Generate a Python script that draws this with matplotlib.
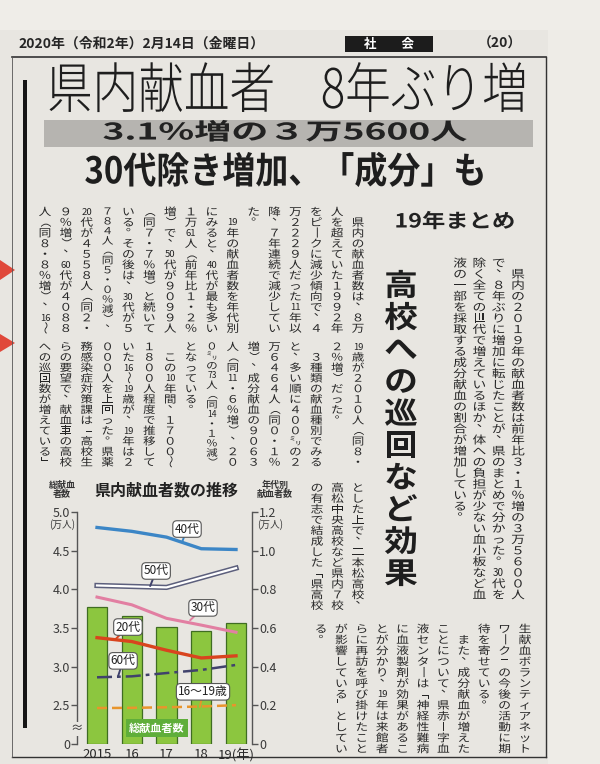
import matplotlib
matplotlib.use('Agg')
import matplotlib.pyplot as plt
import matplotlib.patheffects as pe
from matplotlib.patches import Rectangle, Polygon
from matplotlib.transforms import Affine2D

W, H = 600, 764
FAM = ['Noto Sans CJK JP', 'DejaVu Sans']
plt.rcParams['font.family'] = FAM

# ---- chart data (万人) ----
years = ['2015', '16', '17', '18', '19(年)']
total_donors = [3.77, 3.66, 3.51, 3.46, 3.56]      # left axis, 総献血者数
age_40s = [1.12, 1.10, 1.07, 1.01, 1.006]           # right axis, 年代別
age_50s = [0.82, 0.815, 0.81, 0.86, 0.91]
age_30s = [0.76, 0.72, 0.65, 0.615, 0.578]
age_20s = [0.55, 0.53, 0.485, 0.445, 0.456]
age_60s = [0.345, 0.35, 0.367, 0.383, 0.409]
age_teens = [0.186, 0.187, 0.19, 0.194, 0.201]
age_labels = ['40代', '50代', '30代', '20代', '60代', '16〜19歳']
left_ticklabels = ['0', '2.5', '3.0', '3.5', '4.0', '4.5', '5.0']
right_ticks = [0, 0.2, 0.4, 0.6, 0.8, 1.0, 1.2]

# ---- article text (vertical columns, right to left) ----
tier1 = [
    '　県内の献血者数は、８万',
    '人を超えていた１９９２年',
    'をピークに減少傾向で、４',
    '万２２２９人だった11年以',
    '降、７年連続で減少してい',
    'た。',
    '　19年の献血者数を年代別',
    'にみると、40代が最も多い',
    '１万61人（前年比１・２％',
    '増）で、50代が９０９９人',
    '（同７・７％増）と続いて',
    'いる。その後は、30代が５',
    '７８４人（同５・０％減）、',
    '20代が４５５８人（同２・',
    '９％増）、60代が４０８８',
    '人（同８・８％増）、16〜',
]
tier2 = [
    '19歳が２０１０人（同８・',
    '２％増）だった。',
    '　３種類の献血種別でみる',
    'と、多い順に４００㍉の２',
    '万６４６４人（同０・１％',
    '増）、成分献血の９０６３',
    '人（同11・６％増）、２０',
    '０㍉の73人（同14・１％減）',
    'となっている。',
    '　この10年間、１７００〜',
    '１８００人程度で推移して',
    'いた16〜19歳が、19年は２',
    '０００人を上回った。県薬',
    '務感染症対策課は「高校生',
    'らの要望で、献血車の高校',
    'への巡回数が増えている」',
]
tier3 = [
    'とした上で、二本松高校、',
    '高松中央高校など県内７校',
    'の有志で結成した「県高校',
]
tier4 = [
    '生献血ボランティアネット',
    'ワーク」の今後の活動に期',
    '待を寄せている。',
    '　また、成分献血が増えた',
    'ことについて、県赤十字血',
    '液センターは「神経性難病',
    'に血液製剤が効果があるこ',
    'とが分かり、19年は来館者',
    'らに再訪を呼び掛けたこと',
    'が影響している」としてい',
    'る。',
]
lede = [
    '　県内の２０１９年の献血者数は前年比３・１％増の３万５６００人',
    'で、８年ぶりに増加に転じたことが、県のまとめで分かった。30代を',
    '除く全ての世代で増えているほか、体への負担が少ない血小板など血',
    '液の一部を採取する成分献血の割合が増加している。',
]

INK = '#262626'
PAPER = '#e8e6e1'
ROTATE = set('（）「」ー〜')
CORNER = set('、。')


class Stretch(pe.AbstractPathEffect):
    # scale each glyph run about its own centre (flat / tall newspaper type),
    # optionally nudged by dx, dy display pixels
    def __init__(self, sx=1.0, sy=1.0, dx=0.0, dy=0.0):
        super().__init__()
        self.sx, self.sy, self.dx, self.dy = sx, sy, dx, dy

    def draw_path(self, renderer, gc, tpath, affine, rgbFace=None):
        ext = tpath.get_extents()
        cx, cy = (ext.x0 + ext.x1) / 2, (ext.y0 + ext.y1) / 2
        aff = (Affine2D().translate(-cx, -cy).scale(self.sx, self.sy).translate(cx, cy)
               + affine + Affine2D().translate(self.dx, self.dy))
        renderer.draw_path(gc, tpath, aff, rgbFace)


def cells(s):
    # ASCII runs share one cell (tate-chu-yoko)
    out, i = [], 0
    while i < len(s):
        if s[i].isascii():
            j = i
            while j < len(s) and s[j].isascii():
                j += 1
            out.append(s[i:j])
            i = j
        else:
            out.append(s[i])
            i += 1
    return out


def vcol(ax, text, x, y0, pitch, em, sx=1.2, weight='normal', color=INK, fit=None):
    cl = cells(text)
    if fit and len(cl) > fit:
        # squeeze over-long columns so they stay inside their tier
        pitch = pitch * fit / len(cl)
        em = em * fit / len(cl)
    size = em * 0.72
    for k, c in enumerate(cl):
        cy = y0 + pitch * (k + 0.5)
        if c.strip('　') == '':
            continue
        if c in ROTATE:
            ax.text(x, cy, c, rotation=-90, ha='center', va='center', fontsize=size,
                    weight=weight, color=color, path_effects=[Stretch(sx, 1.0)])
        elif c in CORNER:
            # vertical setting: comma / full stop sit in the upper right of the cell
            ax.text(x, cy + 0.38 * em, c, ha='center', va='baseline', fontsize=size,
                    weight=weight, color=color,
                    path_effects=[Stretch(sx, 1.0, dx=0.3 * em, dy=0.56 * em)])
        elif c.isascii():
            ax.text(x, cy + 0.33 * em, c, ha='center', va='baseline', fontsize=size * 0.9,
                    weight=weight, color=color)
        else:
            ax.text(x, cy + 0.38 * em, c, ha='center', va='baseline', fontsize=size,
                    weight=weight, color=color, path_effects=[Stretch(sx, 1.0)])


fig = plt.figure(figsize=(6, 7.64), dpi=100)
fig.patch.set_facecolor(PAPER)
bg = fig.add_axes([0, 0, 1, 1])
bg.set_xlim(0, W)
bg.set_ylim(H, 0)
bg.axis('off')

# paper outside the article frame
bg.add_patch(Rectangle((548, 0), 52, H, fc='#eeece7', ec='none'))
bg.add_patch(Rectangle((0, 0), W, 30, fc='#efede8', ec='none'))

# ---- header ----
bg.text(18, 44, '2020年（令和2年）2月14日（金曜日）', fontsize=10, weight='bold',
        ha='left', va='center', color=INK)
bg.add_patch(Rectangle((345, 36), 88, 16, fc='#1c1c1c', ec='none'))
bg.text(389, 44, '社　　会', fontsize=9, weight='bold', color='white', ha='center', va='center')
bg.text(500, 44, '（20）', fontsize=10, weight='bold', ha='center', va='center', color=INK)

# frame
bg.plot([12, 546], [57, 57], color='#333', lw=1.2)
bg.plot([546, 546], [57, 757], color='#333', lw=1.0)
bg.plot([12, 546], [757, 757], color='#333', lw=1.0)
bg.plot([12, 12], [57, 757], color='#555', lw=0.6)
bg.add_patch(Rectangle((23, 80), 4, 648, fc='#151515', ec='none'))

# red marks on the left margin
bg.add_patch(Polygon([(0, 260), (15, 270), (0, 280)], closed=True, fc='#e0483a', ec='none'))
bg.add_patch(Polygon([(0, 334), (15, 343), (0, 352)], closed=True, fc='#e0483a', ec='none'))

# ---- headlines ----
bg.text(287, 91, '県内献血者　8年ぶり増', fontsize=31, weight='light', ha='center',
        va='center', color='#1e1e1e', path_effects=[Stretch(1.06, 1.27)])
bg.add_patch(Rectangle((44, 120), 489, 27, fc='#b6b4b0', ec='none'))
bg.text(285, 133, '3.1%増の３万5600人', fontsize=16.5, weight='bold', ha='center',
        va='center', color='#222', path_effects=[Stretch(1.62, 1.0)])
bg.text(285, 172, '30代除き増加、「成分」も', fontsize=22, weight='bold', ha='center',
        va='center', color='#1e1e1e', path_effects=[Stretch(1.08, 1.2)])

bg.text(455, 222, '19年まとめ', fontsize=14, weight='bold', ha='center', va='center',
        color='#222', path_effects=[Stretch(1.2, 1.0)])
vcol(bg, '高校への巡回など効果', 401, 268, 32, 30, sx=1.12, weight='bold', color='#1e1e1e')

# ---- article body ----
for i, col in enumerate(lede):
    vcol(bg, col, 518 - 19.3 * i, 257, 11.06, 11.0, sx=1.25)
for i, col in enumerate(tier1):
    vcol(bg, col, 358 - 20.87 * i, 206, 10.6, 10.6, fit=12)
for i, col in enumerate(tier2):
    vcol(bg, col, 358 - 20.87 * i, 341, 10.5, 10.4, fit=12)
for i, col in enumerate(tier3):
    vcol(bg, col, 358 - 20.5 * i, 482, 10.7, 10.6, fit=12)
for i, col in enumerate(tier4):
    vcol(bg, col, 525 - 20.4 * i, 623, 10.9, 10.6, fit=12)

# ---- chart ----
def fig_rect(x0, y0, x1, y1):
    return [x0 / W, 1 - y1 / H, (x1 - x0) / W, (y1 - y0) / H]


ax = fig.add_axes(fig_rect(77, 512, 252, 744))
ax.set_facecolor('none')
x = list(range(len(years)))
# total donors drawn on the age axis scale: 2.5万 -> 0.2, 0.5万 per 0.2 step
bar_vals = [0.2 + (v - 2.5) * 0.4 for v in total_donors]
ax.bar(x, bar_vals, width=0.58, color='#8cc63f', edgecolor='#3f6d22', lw=0.9, zorder=2)

ax.plot(x, age_40s, color='#3c86c6', lw=2.4, zorder=4)
ax.plot(x, age_50s, color='#5c5f7c', lw=3.8, zorder=4)
ax.plot(x, age_50s, color='white', lw=1.6, zorder=4)
ax.plot(x, age_30s, color='#e27fa2', lw=2.2, zorder=4)
ax.plot(x, age_20s, color='#d9441e', lw=2.4, zorder=4)
ax.plot(x, age_60s, color='#40426c', lw=1.8, ls=(0, (6, 2, 1.5, 2)), zorder=4)
ax.plot(x, age_teens, color='#e8952c', lw=1.8, ls=(0, (4, 2)), zorder=4)

ax.set_xlim(-0.576, 4.46)
ax.set_ylim(0, 1.2)
for s in ['top', 'bottom']:
    ax.spines[s].set_visible(False)
for s in ['left', 'right']:
    ax.spines[s].set_color('#555')
    ax.spines[s].set_linewidth(1.0)
ax.set_yticks(right_ticks)
ax.set_yticklabels(left_ticklabels)
ax.set_xticks(x)
ax.set_xticklabels(years)
ax.tick_params(axis='x', length=0, pad=3, labelsize=9.5, labelcolor='#2a2a2a')
ax.tick_params(axis='y', length=4, width=1, color='#555', pad=1, labelsize=9,
               labelcolor='#3a3a3a')

ax2 = ax.twinx()
ax2.set_ylim(0, 1.2)
ax2.set_yticks(right_ticks)
ax2.set_yticklabels(['0' if t == 0 else f'{t:.1f}' for t in right_ticks])
ax2.tick_params(axis='y', length=4, width=1, color='#555', pad=1, labelsize=9,
                labelcolor='#3a3a3a')
for s in ['top', 'bottom', 'left', 'right']:
    ax2.spines[s].set_visible(False)

# line labels with pointers
label_spots = [((2.59, 1.112), (2.45, 1.045), '#3c86c6'),
               ((1.70, 0.895), (1.53, 0.817), '#40426c'),
               ((3.05, 0.704), (2.68, 0.64), '#e27fa2'),
               ((0.89, 0.605), (0.52, 0.54), '#d9441e'),
               ((0.75, 0.43), (0.60, 0.347), '#40426c'),
               ((3.05, 0.27), (2.96, 0.192), '#e8952c')]
for lab, (txt_xy, tip, c) in zip(age_labels, label_spots):
    ax2.annotate(lab, xy=tip, xytext=txt_xy, ha='center', va='center', fontsize=8.5,
                 color='#222', zorder=6,
                 bbox=dict(boxstyle='round,pad=0.15,rounding_size=0.35', fc='white',
                           ec='#555', lw=0.8),
                 arrowprops=dict(arrowstyle='-', color=c, lw=1.4, shrinkA=0, shrinkB=0))

# chart titles and units (pixel positions via the background axes)
bg.text(62, 490, '総献血\n者数', fontsize=6.5, weight='bold', ha='center', va='center',
        linespacing=1.0, color='#333')
bg.text(166, 490, '県内献血者数の推移', fontsize=11.5, weight='bold', ha='center',
        va='center', color='#222')
bg.text(275, 490, '年代別\n献血者数', fontsize=6.5, weight='bold', ha='center', va='center',
        linespacing=1.0, color='#333')
bg.text(62, 525, '(万人)', fontsize=7, ha='center', va='center', color='#3a3a3a')
bg.text(270, 525, '(万人)', fontsize=7, ha='center', va='center', color='#3a3a3a')
ax2.text(77, 729, '≈', transform=bg.transData, fontsize=9, ha='center', va='center',
         color='#333', zorder=8, bbox=dict(fc=PAPER, ec='none', pad=0.1))
ax2.text(157, 728, '総献血者数', transform=bg.transData, fontsize=8, weight='bold',
         color='white', ha='center', va='center', zorder=8,
         bbox=dict(boxstyle='square,pad=0.25', fc='#5fae3a', ec='none'))

fig.savefig('out.png', dpi=100, facecolor=fig.get_facecolor())
